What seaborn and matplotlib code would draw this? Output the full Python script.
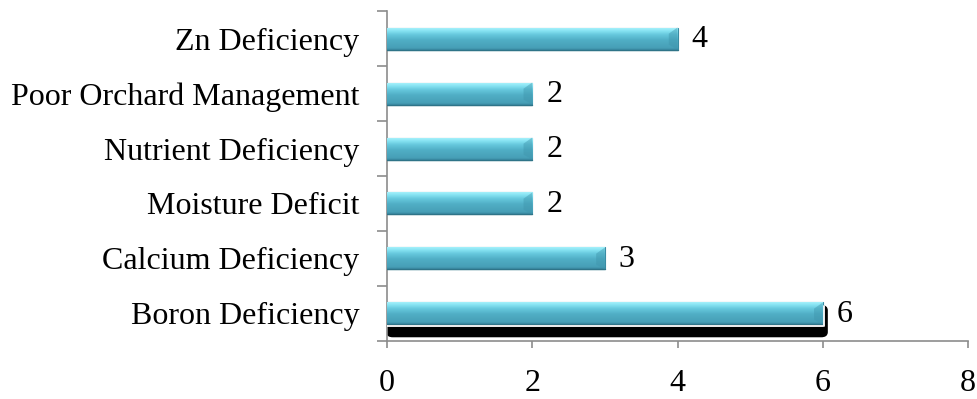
import numpy as np
import pandas as pd
import matplotlib
matplotlib.use("Agg")
import matplotlib.pyplot as plt
import seaborn as sns
from matplotlib.patches import FancyBboxPatch
from matplotlib.colors import LinearSegmentedColormap

# Causes reported and their counts (top to bottom)
causes = ["Zn Deficiency", "Poor Orchard Management", "Nutrient Deficiency",
          "Moisture Deficit", "Calcium Deficiency", "Boron Deficiency"]
counts = [4, 2, 2, 2, 3, 6]
x_ticks = [0, 2, 4, 6, 8]

df = pd.DataFrame({"cause": causes, "count": counts})

sns.set_theme(style="white")
plt.rcParams["font.family"] = ["Liberation Serif", "DejaVu Serif"]
plt.rcParams["text.color"] = "black"
plt.rcParams["xtick.labelcolor"] = "black"
plt.rcParams["ytick.labelcolor"] = "black"

FS = 23

fig = plt.figure(figsize=(9.77, 3.99), dpi=100)
ax = fig.add_axes([0.3961, 0.1454, 0.5947, 0.8270])

bar_h = 0.40
sns.barplot(data=df, x="count", y="cause", order=causes, orient="h",
            width=bar_h, color="#52b2c9", edgecolor="#3a8ca3", linewidth=0.8,
            ax=ax, zorder=3)

ax.set_xlim(0, 8)
ax.set_ylim(5.5, -0.5)

# Vertical glossy gradient clipped to each bar
grad_cmap = LinearSegmentedColormap.from_list(
    "gloss", [(0.0, "#3a8aa1"), (0.10, "#479fb7"), (0.45, "#50aec5"),
              (0.70, "#66c8dd"), (0.88, "#88e4f3"), (1.0, "#a6f1fb")])
grad = np.linspace(0, 1, 256).reshape(-1, 1)
for patch in ax.patches:
    x0, y0 = patch.get_x(), patch.get_y()
    w, h = patch.get_width(), patch.get_height()
    # y axis is inverted: top of the bar is y0, bottom is y0 + h
    im = ax.imshow(grad, cmap=grad_cmap, aspect="auto",
                   extent=(x0, x0 + w, y0 + h, y0), origin="lower",
                   zorder=3.5, interpolation="bilinear")
    im.set_clip_path(patch)
    ax.plot([x0, x0 + w], [y0 + h, y0 + h], color="#2f7488", lw=1.0, zorder=3.6)
    # bevelled right end
    ax.fill([x0 + w - 0.12, x0 + w, x0 + w, x0 + w - 0.12],
            [y0 + h * 0.28, y0, y0 + h, y0 + h * 0.78],
            color="#3f95ac", alpha=0.45, zorder=3.7, lw=0)

# Dark shadow under the longest bar
boron = ax.patches[causes.index("Boron Deficiency")]
shadow = FancyBboxPatch((0, boron.get_y() + 0.06), boron.get_width() + 0.06,
                        boron.get_height() + 0.16,
                        boxstyle="round,pad=0,rounding_size=0.08",
                        mutation_aspect=1.0, facecolor="black",
                        edgecolor="black", zorder=2.5)
ax.add_patch(shadow)
ax.plot([0, boron.get_width() + 0.01],
        [boron.get_y() + boron.get_height() + 0.025] * 2,
        color="white", lw=1.3, zorder=3.65)
ax.plot([boron.get_width() + 0.015] * 2,
        [boron.get_y() + 0.06, boron.get_y() + boron.get_height() + 0.025],
        color="white", lw=1.3, zorder=3.65)

# Value labels
for i, v in enumerate(counts):
    ax.annotate(f"{v}", xy=(v, i), xytext=(10, -1), textcoords="offset points",
                ha="left", va="center", fontsize=FS, color="black", zorder=5)

# Axes styling
for side in ["top", "right"]:
    ax.spines[side].set_visible(False)
for side in ["left", "bottom"]:
    ax.spines[side].set_color("#8c8c8c")
    ax.spines[side].set_linewidth(1.2)

ax.set_xticks(x_ticks)
ax.set_xticklabels([str(t) for t in x_ticks], fontsize=FS)
ax.tick_params(axis="x", direction="out", length=5, width=1.2,
               color="#8c8c8c", pad=15, bottom=True)

ax.set_yticks(range(len(causes)))
ax.set_yticklabels(causes, fontsize=FS)
ax.tick_params(axis="y", which="major", length=0, pad=20, left=False)
ax.set_yticks(np.arange(-0.5, len(causes), 1.0), minor=True)
ax.tick_params(axis="y", which="minor", direction="out", length=7,
               width=1.2, color="#8c8c8c", left=True)

ax.set_xlabel("")
ax.set_ylabel("")
ax.grid(False)

fig.savefig("out.png", dpi=100, facecolor="white")
